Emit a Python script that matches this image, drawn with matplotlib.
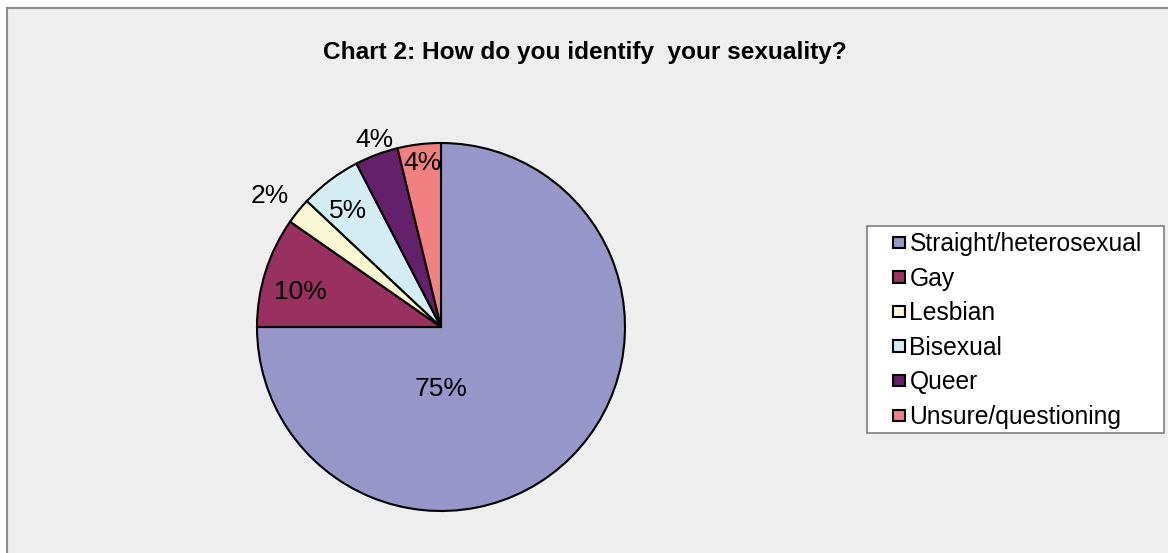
import matplotlib
matplotlib.use("Agg")
import matplotlib.pyplot as plt
from matplotlib.patches import Rectangle
from matplotlib.legend_handler import HandlerPatch

categories = ["Straight/heterosexual", "Gay", "Lesbian", "Bisexual", "Queer",
              "Unsure/questioning"]
shares = [75.0, 9.7, 2.3, 5.4, 3.8, 3.8]
colors = ["#9696C8", "#983060", "#FAF8D2", "#D4ECF4", "#64206A", "#F28080"]
title = "Chart 2: How do you identify  your sexuality?"

# label placement in radius units (x, y) relative to pie centre
label_pos = [(0.0, -0.337), (-0.766, 0.190), (-0.929, 0.712),
             (-0.505, 0.630), (-0.364, 1.016), (-0.103, 0.891)]

W, H = 1168, 553
plt.rcParams["font.family"] = ["Liberation Sans", "DejaVu Sans"]
fig = plt.figure(figsize=(W / 100, H / 100), dpi=100)
fig.patch.set_facecolor("white")

# chart area panel
fig.patches.append(Rectangle((7 / W, -0.1), 1.2, 1 - 8 / H + 0.1,
                             transform=fig.transFigure, facecolor="#EDEEED",
                             edgecolor="#8C8C8C", linewidth=1.5, zorder=-10))

cx, cy, R = 441, 327, 184
ax = fig.add_axes([(cx - R) / W, (H - cy - R) / H, 2 * R / W, 2 * R / H])
wedges, _ = ax.pie(shares, colors=colors, startangle=90, counterclock=False,
                   radius=1.0,
                   wedgeprops=dict(edgecolor="black", linewidth=1.5))
for (lx, ly), v in zip(label_pos, shares):
    ax.text(lx, ly, f"{v:.0f}%", ha="center", va="center", fontsize=19,
            color="black")
ax.set_xlim(-1, 1)
ax.set_ylim(-1, 1)
ax.set_aspect("equal")
ax.axis("off")

fig.text(585 / W, 1 - 53 / H, title, ha="center", va="center",
         fontsize=17.6, fontweight="bold")

# legend frame
fig.patches.append(Rectangle((867 / W, 1 - 433 / H), 297 / W, 207 / H,
                             transform=fig.transFigure, facecolor="white",
                             edgecolor="#7F7F7F", linewidth=1.2, zorder=-5))


def square(legend, orig_handle, xdescent, ydescent, width, height, fontsize):
    s = 0.46 * fontsize
    return Rectangle((-xdescent + width - s, -ydescent + (height - s) / 2), s, s)


leg = fig.legend(wedges, categories, loc="upper left",
                 bbox_to_anchor=(891 / W, 1 - 232 / H), fontsize=17.7,
                 frameon=False, handlelength=0.55, handleheight=0.7,
                 handletextpad=0.2, labelspacing=0.43, borderpad=0,
                 borderaxespad=0,
                 handler_map={type(wedges[0]): HandlerPatch(patch_func=square)})
for h in leg.legend_handles:
    h.set_edgecolor("black")
    h.set_linewidth(1.5)

fig.savefig("out.png", dpi=100)
